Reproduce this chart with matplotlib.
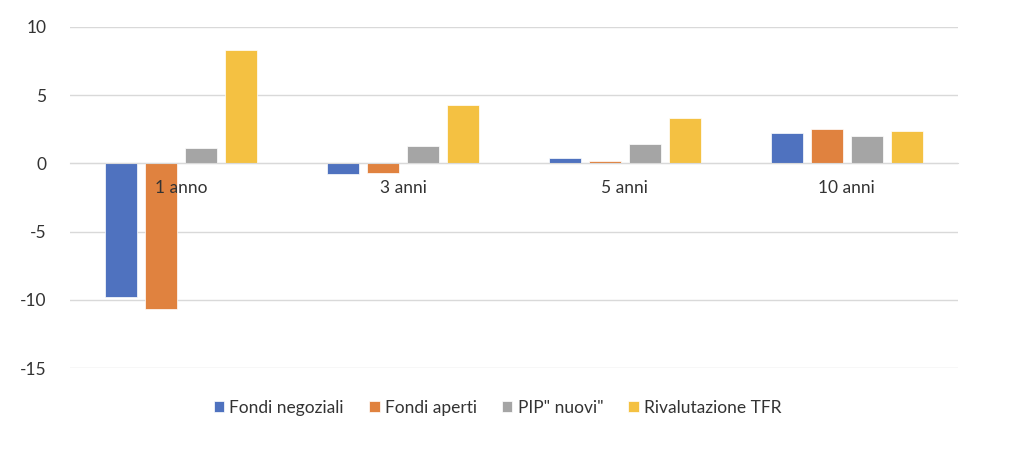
import numpy as np
import matplotlib.pyplot as plt

plt.rcParams['font.family'] = ['Lato', 'DejaVu Sans']
plt.rcParams['axes.unicode_minus'] = False

periodi = ['1 anno', '3 anni', '5 anni', '10 anni']
serie = ['Fondi negoziali', 'Fondi aperti', 'PIP" nuovi"', 'Rivalutazione TFR']
fondi_negoziali = [-9.8, -0.8, 0.4, 2.2]
fondi_aperti = [-10.7, -0.7, 0.2, 2.5]
pip_nuovi = [1.1, 1.3, 1.4, 2.0]
tfr = [8.3, 4.3, 3.3, 2.4]
colori = ['#4F72BF', '#E0823F', '#A5A5A5', '#F4C142']

valori = [fondi_negoziali, fondi_aperti, pip_nuovi, tfr]

fig = plt.figure(figsize=(10.24, 4.63), dpi=100)
ax = fig.add_axes([0.0684, 0.205, 0.867, 0.737])

x = np.arange(len(periodi))
step = 0.18
w = 0.145
for i, (nome, v, c) in enumerate(zip(serie, valori, colori)):
    ax.bar(x + (i - 1.5) * step, v, width=w, color=c, label=nome,
           edgecolor='white', linewidth=0.5, zorder=2)

ax.set_xlim(-0.5, 3.5)
ax.set_ylim(-15, 10)
ax.set_yticks([10, 5, 0, -5, -10, -15])
ax.yaxis.grid(True, color='#d9d9d9', linewidth=1, zorder=0)
ax.set_axisbelow(True)

for s in ['top', 'right', 'left']:
    ax.spines[s].set_visible(False)
ax.spines['bottom'].set_position(('data', 0))
ax.spines['bottom'].set_color('#d9d9d9')
ax.set_xticks([])
ax.tick_params(axis='y', length=0, pad=17, labelsize=12.5, labelcolor='#333333')

# etichette delle categorie sopra le barre, come in Excel
for xi, p in zip(x, periodi):
    ax.annotate(p, (xi, 0), xytext=(0, -17.5), textcoords='offset points',
                ha='center', va='center', fontsize=12.5, color='#333333', zorder=5)

fig.legend(loc='center', bbox_to_anchor=(0.486, 0.119), ncol=4, frameon=False,
           handlelength=0.6, handleheight=0.6, handletextpad=0.3,
           columnspacing=1.45, fontsize=12.5, labelcolor='#333333')

fig.savefig('out.png', dpi=100)
